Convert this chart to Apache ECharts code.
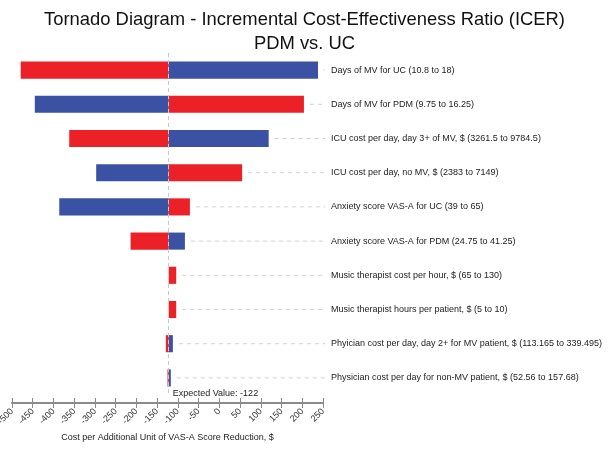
<!DOCTYPE html>
<html><head><meta charset="utf-8">
<script src="https://cdn.jsdelivr.net/npm/echarts@6/dist/echarts.min.js"></script>
<style>html,body{margin:0;padding:0;background:#fff}#c{width:609px;height:451px}</style>
</head><body><div id="c"></div>
<script>
const categories = [
  'Days of MV for UC (10.8 to 18)',
  'Days of MV for PDM (9.75 to 16.25)',
  'ICU cost per day, day 3+ of MV, $ (3261.5 to 9784.5)',
  'ICU cost per day, no MV, $ (2383 to 7149)',
  'Anxiety score VAS-A for UC (39 to 65)',
  'Anxiety score VAS-A for PDM (24.75 to 41.25)',
  'Music therapist cost per hour, $ (65 to 130)',
  'Music therapist hours per patient, $ (5 to 10)',
  'Phyician cost per day, day 2+ for MV patient, $ (113.165 to 339.495)',
  'Physician cost per day for non-MV patient, $ (52.56 to 157.68)'
];
const expectedValue = -122;
const redValues  = [-479, 204, -362, 55, -71, -214, -104, -104, -129, -125];
const blueValues = [238, -445, 119, -297, -386, -83, -122, -122, -112, -117];
const xTicks = [-500, 250, 50];

const RED = '#ec2027', BLUE = '#3b51a3';
const chart = echarts.init(document.getElementById('c'));
const data = categories.map((c, i) => [i, redValues[i], blueValues[i]]);
const FONT = 'Liberation Sans, Arial';

chart.setOption({
  animation: false,
  title: {
    text: 'Tornado Diagram - Incremental Cost-Effectiveness Ratio (ICER)\nPDM vs. UC',
    left: 'center', top: 3,
    textStyle: { fontFamily: FONT, fontSize: 18.4, fontWeight: 'normal', color: '#111', lineHeight: 24 }
  },
  grid: { left: 12, right: 286, top: 53, bottom: 56, containLabel: false, outerBoundsMode: 'none' },
  xAxis: [{
    type: 'value', min: xTicks[0], max: xTicks[1], interval: xTicks[2], offset: 8,
    name: 'Cost per Additional Unit of VAS-A Score Reduction, $',
    nameLocation: 'middle', nameGap: 22,
    nameTextStyle: { fontFamily: FONT, fontSize: 9, color: '#222' },
    axisLine: { show: true, lineStyle: { color: '#8a8a8a', width: 2 } },
    axisTick: { show: true, length: 5, lineStyle: { color: '#8a8a8a', width: 1 } },
    axisLabel: { rotate: 45, fontFamily: FONT, fontSize: 9, color: '#333', margin: 7 },
    splitLine: { show: false }
  }, {
    type: 'value', min: xTicks[0], max: xTicks[1], interval: xTicks[2], offset: 8, position: 'bottom',
    axisLine: { show: false },
    axisTick: { show: true, inside: true, length: 5, lineStyle: { color: '#8a8a8a', width: 1 } },
    axisLabel: { show: false }, splitLine: { show: false }
  }],
  yAxis: {
    type: 'category', data: categories, inverse: true, position: 'right',
    axisLine: { show: false }, axisTick: { show: false },
    axisLabel: { align: 'left', margin: 8, fontFamily: FONT, fontSize: 9, color: '#222' }
  },
  series: [{
    type: 'custom',
    data: data,
    encode: { x: [1, 2], y: 0 },
    renderItem: function (params, api) {
      const cat = api.value(0);
      const r = api.value(1), b = api.value(2);
      const base = api.coord([expectedValue, cat]);
      const pr = api.coord([r, cat]);
      const pb = api.coord([b, cat]);
      const pEnd = api.coord([xTicks[1], cat]);
      const h = api.size([0, 1])[1] * 0.5;
      const y = base[1] - h / 2;
      const children = [];
      const rightMost = Math.max(pr[0], pb[0], base[0]);
      children.push({ type: 'line', shape: { x1: rightMost + 6, y1: base[1], x2: pEnd[0] + 2, y2: base[1] },
        style: { stroke: '#d0d0d0', lineWidth: 1, lineDash: [4, 4] } });
      function rect(p, color) {
        const x1 = Math.min(base[0], p[0]), x2 = Math.max(base[0], p[0]);
        if (x2 - x1 < 0.5) return;
        children.push({ type: 'rect', shape: { x: x1, y: y, width: x2 - x1, height: h },
          style: { fill: color } });
      }
      rect(pr, RED); rect(pb, BLUE);
      return { type: 'group', children: children };
    },
    markLine: {
      silent: true, symbol: 'none',
      lineStyle: { color: '#c8c8c8', type: [4, 3], width: 1 },
      label: { show: true, position: 'end', align: 'left', distance: [6, -6], padding: [0, 0, 0, 4],
        formatter: 'Expected Value: ' + expectedValue,
        fontFamily: FONT, fontSize: 9, color: '#222' },
      data: [{ xAxis: expectedValue }]
    },
    z: 3
  }]
});
</script></body></html>
